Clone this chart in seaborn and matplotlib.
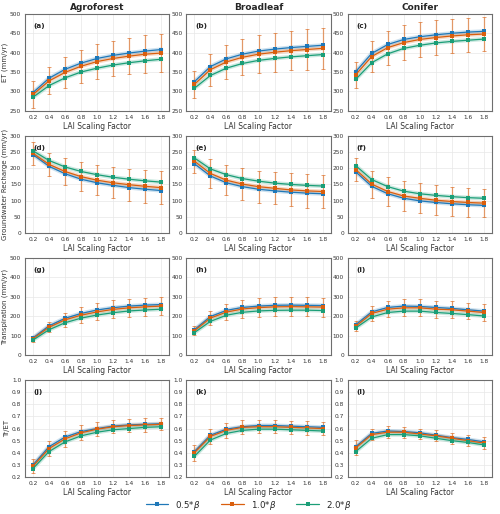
import numpy as np
import pandas as pd
import matplotlib
matplotlib.use("Agg")
import matplotlib.pyplot as plt
import seaborn as sns

lai = [0.2, 0.4, 0.6, 0.8, 1.0, 1.2, 1.4, 1.6, 1.8]
forests = ["Agroforest", "Broadleaf", "Conifer"]
series = ["0.5*$\\beta$", "1.0*$\\beta$", "2.0*$\\beta$"]
variables = ["ET (mm/yr)", "Groundwater Recharge (mm/yr)", "Transpiration (mm/yr)", "Tr/ET"]
panel_letters = ["(a)", "(b)", "(c)", "(d)", "(e)", "(f)", "(g)", "(h)", "(i)", "(j)", "(k)", "(l)"]

# ET
et_agro_05 = [297, 334, 357, 373, 385, 393, 399, 404, 408]
et_agro_10 = [292, 327, 349, 365, 377, 385, 391, 396, 399]
et_agro_20 = [285, 315, 335, 350, 360, 368, 374, 379, 383]
et_agro_err = [35, 35, 40, 43, 44, 45, 47, 49, 49]
et_broad_05 = [325, 364, 384, 396, 404, 409, 413, 416, 419]
et_broad_10 = [318, 356, 376, 388, 396, 401, 405, 408, 411]
et_broad_20 = [308, 341, 360, 372, 380, 385, 389, 392, 395]
et_broad_err = [34, 41, 44, 46, 49, 50, 51, 52, 52]
et_con_05 = [351, 398, 421, 434, 441, 446, 450, 453, 455]
et_con_10 = [343, 390, 413, 426, 434, 439, 443, 446, 448]
et_con_20 = [331, 374, 397, 411, 419, 425, 429, 432, 435]
et_con_err = [34, 39, 44, 45, 46, 46, 44, 44, 44]

# Groundwater recharge
gw_agro_05 = [242, 206, 183, 166, 155, 147, 140, 135, 131]
gw_agro_10 = [246, 212, 190, 174, 163, 155, 149, 144, 140]
gw_agro_20 = [254, 224, 204, 190, 180, 172, 166, 161, 157]
gw_agro_err = [36, 36, 42, 45, 47, 48, 49, 51, 50]
gw_broad_05 = [214, 176, 155, 143, 135, 130, 126, 123, 121]
gw_broad_10 = [222, 184, 163, 151, 143, 138, 133, 130, 128]
gw_broad_20 = [232, 198, 180, 168, 160, 154, 150, 147, 145]
gw_broad_err = [36, 44, 47, 49, 50, 50, 51, 52, 51]
gw_con_05 = [189, 144, 121, 107, 99, 94, 90, 87, 85]
gw_con_10 = [196, 151, 128, 114, 107, 101, 97, 94, 92]
gw_con_20 = [208, 165, 143, 129, 121, 116, 112, 109, 107]
gw_con_err = [37, 42, 46, 47, 47, 47, 46, 45, 44]

# Transpiration
tr_agro_05 = [88, 150, 189, 214, 232, 244, 252, 257, 260]
tr_agro_10 = [84, 143, 181, 205, 222, 235, 243, 248, 252]
tr_agro_20 = [77, 130, 166, 190, 206, 218, 227, 232, 236]
tr_agro_err = [15, 27, 35, 40, 44, 47, 48, 48, 48]
tr_broad_05 = [130, 198, 230, 245, 252, 256, 257, 256, 255]
tr_broad_10 = [125, 190, 221, 237, 244, 248, 249, 248, 247]
tr_broad_20 = [115, 173, 205, 220, 227, 230, 231, 231, 229]
tr_broad_err = [22, 37, 42, 46, 48, 49, 49, 49, 49]
tr_con_05 = [156, 222, 245, 252, 250, 245, 240, 233, 226]
tr_con_10 = [148, 214, 236, 243, 243, 236, 233, 226, 219]
tr_con_20 = [139, 196, 219, 226, 226, 219, 214, 208, 201]
tr_con_err = [27, 39, 41, 43, 43, 43, 45, 43, 44]

# Tr/ET
ratio_agro_05 = [0.30, 0.45, 0.53, 0.575, 0.60, 0.62, 0.63, 0.635, 0.64]
ratio_agro_10 = [0.29, 0.435, 0.515, 0.565, 0.595, 0.615, 0.625, 0.63, 0.635]
ratio_agro_20 = [0.27, 0.41, 0.49, 0.54, 0.57, 0.59, 0.60, 0.61, 0.615]
ratio_agro_err = [0.055, 0.065, 0.065, 0.062, 0.058, 0.055, 0.055, 0.055, 0.05]
ratio_broad_05 = [0.41, 0.545, 0.595, 0.615, 0.625, 0.625, 0.62, 0.615, 0.61]
ratio_broad_10 = [0.40, 0.535, 0.585, 0.61, 0.615, 0.615, 0.61, 0.605, 0.60]
ratio_broad_20 = [0.37, 0.505, 0.56, 0.585, 0.595, 0.595, 0.59, 0.585, 0.58]
ratio_broad_err = [0.065, 0.065, 0.06, 0.058, 0.055, 0.055, 0.055, 0.055, 0.05]
ratio_con_05 = [0.45, 0.56, 0.58, 0.575, 0.565, 0.545, 0.525, 0.51, 0.49]
ratio_con_10 = [0.44, 0.55, 0.57, 0.57, 0.555, 0.54, 0.52, 0.50, 0.48]
ratio_con_20 = [0.41, 0.52, 0.55, 0.55, 0.54, 0.52, 0.50, 0.485, 0.465]
ratio_con_err = [0.062, 0.048, 0.048, 0.045, 0.043, 0.045, 0.045, 0.048, 0.048]

panels = [
    [(et_agro_05, et_agro_10, et_agro_20, et_agro_err),
     (et_broad_05, et_broad_10, et_broad_20, et_broad_err),
     (et_con_05, et_con_10, et_con_20, et_con_err)],
    [(gw_agro_05, gw_agro_10, gw_agro_20, gw_agro_err),
     (gw_broad_05, gw_broad_10, gw_broad_20, gw_broad_err),
     (gw_con_05, gw_con_10, gw_con_20, gw_con_err)],
    [(tr_agro_05, tr_agro_10, tr_agro_20, tr_agro_err),
     (tr_broad_05, tr_broad_10, tr_broad_20, tr_broad_err),
     (tr_con_05, tr_con_10, tr_con_20, tr_con_err)],
    [(ratio_agro_05, ratio_agro_10, ratio_agro_20, ratio_agro_err),
     (ratio_broad_05, ratio_broad_10, ratio_broad_20, ratio_broad_err),
     (ratio_con_05, ratio_con_10, ratio_con_20, ratio_con_err)],
]

ylims = [(250, 500), (0, 300), (0, 500), (0.2, 1.0)]
yticks = [np.arange(250, 501, 50), np.arange(0, 301, 50), np.arange(0, 501, 100), np.arange(0.2, 1.01, 0.1)]

colors = ["#1f78b8", "#d95f0e", "#1b9e77"]

sns.set_style("whitegrid")
plt.rcParams['font.family'] = ['DejaVu Sans']

fig, axes = plt.subplots(4, 3, figsize=(5.0, 5.14), dpi=100)
fig.subplots_adjust(left=0.05, right=0.984, top=0.973, bottom=0.072, wspace=0.118, hspace=0.26)

for r in range(4):
    for c in range(3):
        ax = axes[r, c]
        s05, s10, s20, err = panels[r][c]
        df = pd.DataFrame({
            "LAI": lai * 3,
            "value": list(s05) + list(s10) + list(s20),
            "series": [series[0]] * 9 + [series[1]] * 9 + [series[2]] * 9,
        })
        for i, s in enumerate(series):
            sub = df[df["series"] == s]
            ax.plot(sub["LAI"], sub["value"], color=colors[i], lw=3.0, alpha=0.22, zorder=2)
        ax.errorbar(lai, s10, yerr=err, fmt="none", ecolor=colors[1], elinewidth=0.9,
                    capsize=1.4, capthick=0.7, alpha=0.6, zorder=3)
        sns.lineplot(data=df, x="LAI", y="value", hue="series", hue_order=series,
                     palette=colors, marker="s", markersize=2.4, markeredgewidth=0,
                     linewidth=0.9, ax=ax, legend=(r == 0 and c == 0), zorder=4)
        ax.set_ylim(*ylims[r])
        ax.set_yticks(yticks[r])
        if r == 3:
            ax.set_yticklabels([f"{v:.1f}" for v in yticks[r]])
        ax.set_xlim(0.1, 1.9)
        ax.set_xticks(lai)
        ax.set_xticklabels([f"{v:.1f}" for v in lai])
        ax.tick_params(axis="both", labelsize=4.2, length=1.5, width=0.5, pad=1.2,
                       color="#555555", labelcolor="#333333")
        ax.grid(True, color="#e8e8e8", linewidth=0.5)
        for sp in ax.spines.values():
            sp.set_color("#6e6e6e")
            sp.set_linewidth(0.8)
        ax.set_xlabel("LAI Scaling Factor", fontsize=5.5, labelpad=1.5, color="#333333")
        if c == 0:
            ax.set_ylabel(variables[r], fontsize=5.0, labelpad=1.5, color="#333333")
        else:
            ax.set_ylabel("")
        if r == 0:
            ax.set_title(forests[c], fontsize=6.5, fontweight="bold", pad=3)
        ax.text(0.06, 0.88, panel_letters[r * 3 + c], transform=ax.transAxes,
                fontsize=5.2, fontweight="bold", va="center", ha="left")

handles, labels = axes[0, 0].get_legend_handles_labels()
axes[0, 0].get_legend().remove()
fig.legend(handles, labels, loc="center", bbox_to_anchor=(0.497, 0.0175), ncol=3,
           frameon=False, fontsize=6.2, handlelength=2.6, columnspacing=2.4)

fig.savefig("out.png", dpi=100)
